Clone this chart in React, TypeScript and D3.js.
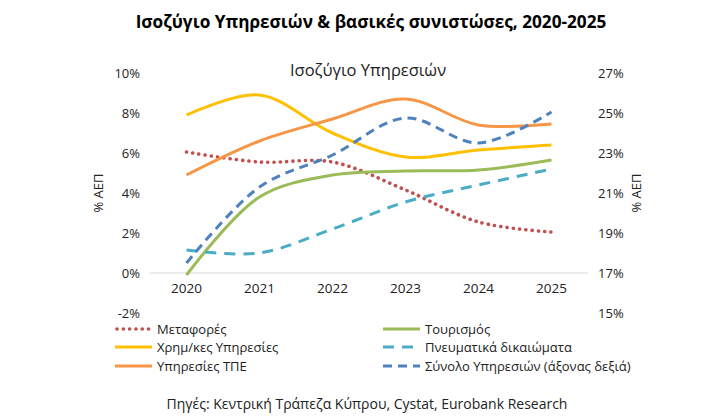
import * as d3 from "d3"

// years on the category axis
const years = ["2020", "2021", "2022", "2023", "2024", "2025"]

// % of GDP, left axis
const transport = [6.05, 5.55, 5.55, 4.15, 2.55, 2.05]
const tourism = [-0.1, 3.8, 4.9, 5.1, 5.15, 5.65]
const financial = [7.9, 8.9, 7.0, 5.8, 6.15, 6.4]
const ict = [4.9, 6.6, 7.7, 8.7, 7.4, 7.45]
const royalties = [1.15, 1.0, 2.2, 3.55, 4.4, 5.2]
// % of GDP, right axis
const totalServices = [17.5, 21.3, 22.9, 24.75, 23.5, 25.05]

const leftTicks = [-2, 0, 2, 4, 6, 8, 10]
const rightTicks = [15, 17, 19, 21, 23, 25, 27]

const FONT = "'Open Sans', 'Noto Sans', sans-serif"

type Series = {
  name: string
  values: number[]
  color: string
  dash?: string
  cap?: "round" | "butt"
  width: number
  right?: boolean
}

const series: Series[] = [
  { name: "Μεταφορές", values: transport, color: "#C0504D", dash: "0.1 6.2", cap: "round", width: 3.6 },
  { name: "Χρημ/κες Υπηρεσίες", values: financial, color: "#FFC000", width: 3 },
  { name: "Υπηρεσίες ΤΠΕ", values: ict, color: "#F79646", width: 3 },
  { name: "Τουρισμός", values: tourism, color: "#9BBB59", width: 3 },
  { name: "Πνευματικά δικαιώματα", values: royalties, color: "#4BACC6", dash: "11 8", width: 3 },
  { name: "Σύνολο Υπηρεσιών (άξονας δεξιά)", values: totalServices, color: "#4F81BD", dash: "9 6", width: 3, right: true },
]

export default function App() {
  const W = 711
  const H = 416

  const x = d3.scaleBand<string>().domain(years).range([150, 588])
  const yL = d3.scaleLinear().domain([-2, 10]).range([313, 73])
  const yR = d3.scaleLinear().domain([15, 27]).range([313, 73])

  const cx = (yr: string) => (x(yr) ?? 0) + x.bandwidth() / 2

  const pathFor = (s: Series) => {
    const y = s.right ? yR : yL
    return d3
      .line<number>()
      .x((_, i) => cx(years[i]))
      .y((v) => y(v))
      .curve(d3.curveCatmullRom.alpha(0.5))(s.values) ?? ""
  }

  // legend: two columns, three rows
  const legendRows = [329, 347, 366]
  const legendCols = [115, 383]

  return (
    <svg
      width={W}
      height={H}
      viewBox={`0 0 ${W} ${H}`}
      style={{ position: "absolute", left: 0, top: 0, background: "#fff" }}
      fontFamily={FONT}
    >
      <text x={371} y={28} textAnchor="middle" fontSize={17.2} fontWeight={700} fill="#000">
        Ισοζύγιο Υπηρεσιών &amp; βασικές συνιστώσες, 2020-2025
      </text>
      <text x={368} y={76} textAnchor="middle" fontSize={16.5} fill="#222">
        Ισοζύγιο Υπηρεσιών
      </text>

      {/* zero line */}
      <line x1={150} x2={588} y1={yL(0)} y2={yL(0)} stroke="#d9d9d9" strokeWidth={1.2} />

      {leftTicks.map((t) => (
        <text key={"l" + t} x={140} y={yL(t)} dy="0.35em" textAnchor="end" fontSize={13} fill="#222">
          {t}%
        </text>
      ))}
      {rightTicks.map((t) => (
        <text key={"r" + t} x={598} y={yR(t)} dy="0.35em" textAnchor="start" fontSize={13} fill="#222">
          {t}%
        </text>
      ))}
      {years.map((yr) => (
        <text key={yr} x={cx(yr)} y={288} dy="0.35em" textAnchor="middle" fontSize={13.5} fill="#222">
          {yr}
        </text>
      ))}

      <text transform={`translate(103,193) rotate(-90)`} textAnchor="middle" fontSize={13} fill="#222">
        % ΑΕΠ
      </text>
      <text transform={`translate(641,193) rotate(-90)`} textAnchor="middle" fontSize={13} fill="#222">
        % ΑΕΠ
      </text>

      {series.map((s) => (
        <path
          key={s.name}
          d={pathFor(s)}
          fill="none"
          stroke={s.color}
          strokeWidth={s.width}
          strokeDasharray={s.dash}
          strokeLinecap={s.cap ?? "butt"}
        />
      ))}

      {series.map((s, i) => {
        const col = Math.floor(i / 3)
        const row = i % 3
        const lx = legendCols[col]
        const ly = legendRows[row]
        return (
          <g key={"lg" + s.name}>
            <line
              x1={lx + (s.cap === "round" ? 2 : 0)}
              x2={lx + 37}
              y1={ly}
              y2={ly}
              stroke={s.color}
              strokeWidth={s.width}
              strokeDasharray={s.dash}
              strokeLinecap={s.cap ?? "butt"}
            />
            <text x={lx + 42} y={ly} dy="0.35em" fontSize={13} fill="#222">
              {s.name}
            </text>
          </g>
        )
      })}

      <text x={367} y={404} dy="0.35em" textAnchor="middle" fontSize={14} fill="#222">
        Πηγές: Κεντρική Τράπεζα Κύπρου, Cystat, Eurobank Research
      </text>
    </svg>
  )
}
